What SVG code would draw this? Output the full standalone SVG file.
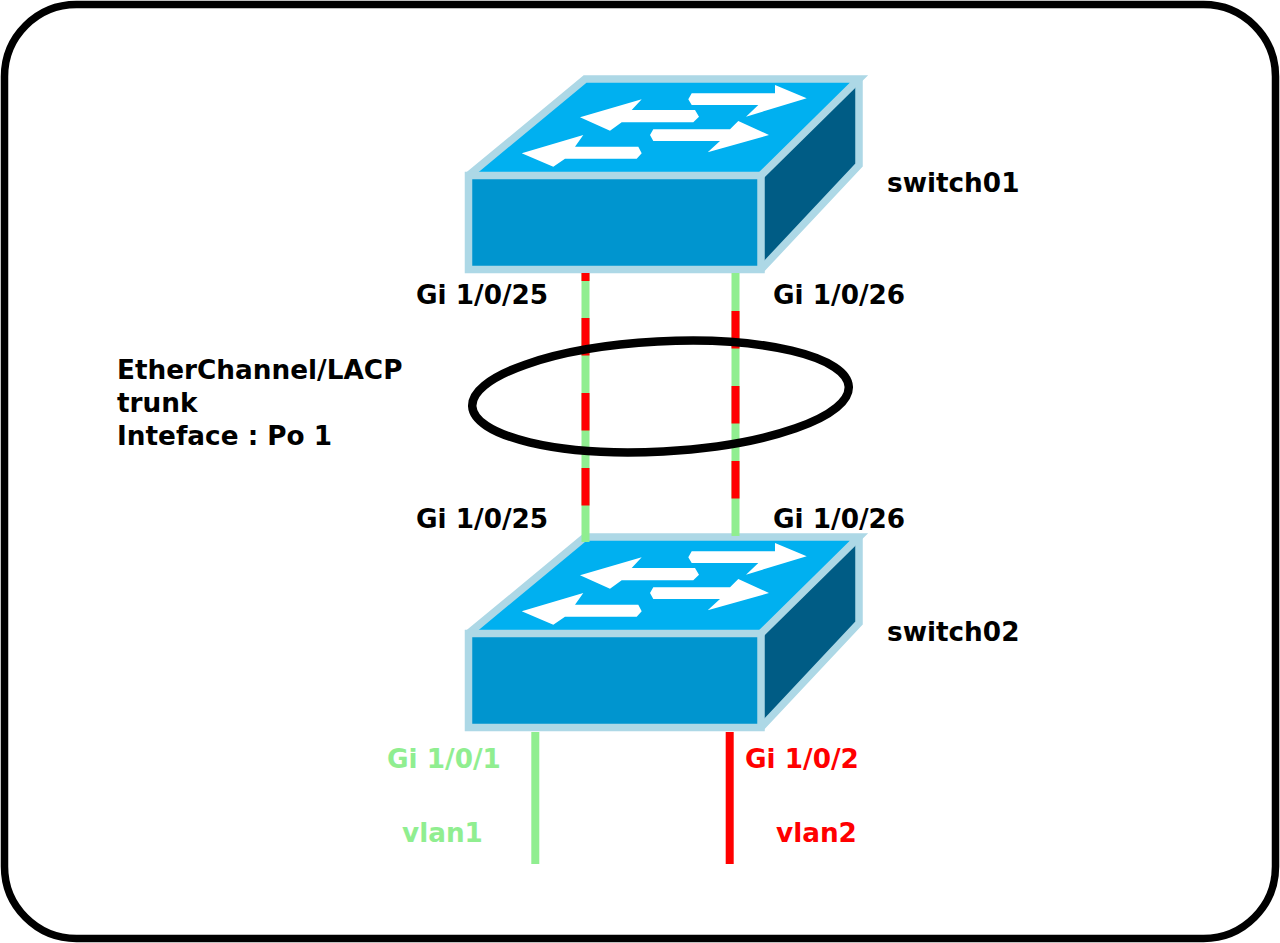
<svg xmlns="http://www.w3.org/2000/svg" xmlns:xlink="http://www.w3.org/1999/xlink" width="1280" height="943" viewBox="0 0 1280 943">
<style>
text{font-family:"DejaVu Sans",sans-serif;font-weight:700;font-size:26.3px;fill:#000}
.g{fill:#90ee90}.r{fill:#f00}
.edge{fill:none;stroke:#add8e6;stroke-width:7.5;stroke-linejoin:miter}
.top{fill:#00b0f0}.front{fill:#0095cf}.side{fill:#005c85}.arrow{fill:#fff}
.lg{stroke:#90ee90;stroke-width:8;fill:none}.lr{stroke:#f00;stroke-width:8;fill:none}
</style>
<defs>
<g id="sw">
<polygon class="top" points="468.5,175.5 585,79 859,79 761,175.5"/>
<polygon class="side" points="761,175.5 859,79 859,165 761,269.5"/>
<rect class="front" x="468.5" y="175.5" width="292.5" height="94"/>
<path class="arrow" d="M688.3,99.3L691.7,93.3H775L775,85L806.7,98.3L746,116.7L758.3,105H691.7Z"/>
<path class="arrow" d="M580,117.3L641.7,99.3L631.7,110H695L699,116.7L693.3,122.3H621.7L610,130.7Z"/>
<path class="arrow" d="M650,135L653.3,129.3H730L738.3,121L769,135L707.7,152.3L720,141H653.3Z"/>
<path class="arrow" d="M521.7,153.3L583.3,135L575,146.7H638.3L641.7,153.3L636.7,158.7H565L553.3,166.7Z"/>
<path class="edge" d="M468.5,175.5L585,79H859L761,175.5"/>
<path class="edge" d="M859,76V165L761,269.5"/>
<rect class="edge" x="468.5" y="175.5" width="292.5" height="94"/>
</g>
</defs>
<rect id="frame" x="4.5" y="4.5" width="1271" height="934" rx="72" ry="72" fill="#fff" stroke="#000" stroke-width="7.5"/>
<g id="switch01"><use xlink:href="#sw"/><text x="887" y="192">switch01</text></g>
<g id="switch02"><use xlink:href="#sw" y="458"/><text x="887" y="641">switch02</text></g>
<g id="connectors">
<path class="lg" d="M585.5,273V542"/>
<path class="lr" d="M585.5,273V281"/>
<path class="lr" stroke-dasharray="37.5 37.5" d="M585.5,318V505.5"/>
<path class="lg" d="M735.5,273V536"/>
<path class="lr" stroke-dasharray="37.5 37.5" d="M735.5,311V498.5"/>
<ellipse cx="660.5" cy="396.5" rx="188.5" ry="55" transform="rotate(-3 660.5 396.5)" fill="none" stroke="#000" stroke-width="8.5"/>
<path class="lg" d="M535.3,732V864"/>
<path class="lr" d="M729.7,732V864"/>
</g>
<g id="labels">
<text x="416" y="304">Gi 1/0/25</text>
<text x="773" y="304">Gi 1/0/26</text>
<text x="416" y="528">Gi 1/0/25</text>
<text x="773" y="528">Gi 1/0/26</text>
<text x="117" y="379">EtherChannel/LACP</text>
<text x="117" y="412">trunk</text>
<text x="117" y="445">Inteface : Po 1</text>
<text class="g" x="387" y="768">Gi 1/0/1</text>
<text class="r" x="745" y="768">Gi 1/0/2</text>
<text class="g" x="402" y="842">vlan1</text>
<text class="r" x="776" y="842">vlan2</text>
</g>
</svg>
